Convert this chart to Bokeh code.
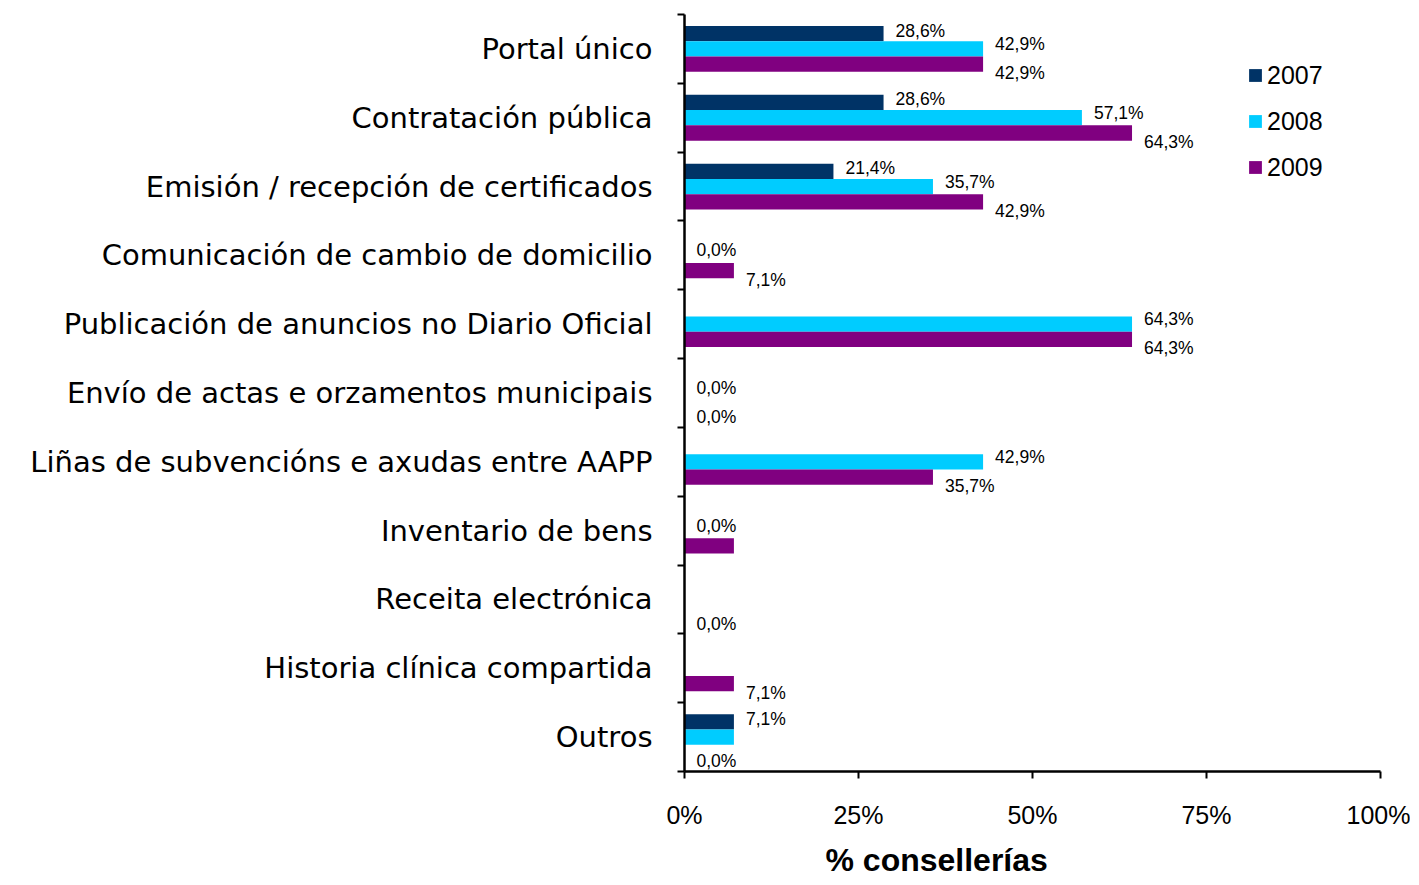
from bokeh.plotting import figure
from bokeh.models import ColumnDataSource, FixedTicker, Legend, LegendItem, Title, Range1d
from bokeh.core.properties import value
from bokeh.embed import file_html
from bokeh.resources import INLINE

categories = [
    "Portal único",
    "Contratación pública",
    "Emisión / recepción de certificados",
    "Comunicación de cambio de domicilio",
    "Publicación de anuncios no Diario Oficial",
    "Envío de actas e orzamentos municipais",
    "Liñas de subvencións e axudas entre AAPP",
    "Inventario de bens",
    "Receita electrónica",
    "Historia clínica compartida",
    "Outros",
]
years = ["2007", "2008", "2009"]
v2007 = [28.6, 28.6, 21.4, 0.0, 0.0, 0.0, 0.0, 0.0, 0.0, 0.0, 7.1]
v2008 = [42.9, 57.1, 35.7, 0.0, 64.3, 0.0, 42.9, 0.0, 0.0, 0.0, 7.1]
v2009 = [42.9, 64.3, 42.9, 7.1, 64.3, 0.0, 35.7, 7.1, 0.0, 7.1, 0.0]
lab2007 = ["28,6%", "28,6%", "21,4%", "", "", "", "", "", "", "", "7,1%"]
lab2008 = ["42,9%", "57,1%", "35,7%", "0,0%", "64,3%", "0,0%", "42,9%", "0,0%", "", "", ""]
lab2009 = ["42,9%", "64,3%", "42,9%", "7,1%", "64,3%", "0,0%", "35,7%", "", "0,0%", "7,1%", "0,0%"]
x_ticks = [0, 25, 50, 75, 100]
x_tick_labels = ["0%", "25%", "50%", "75%", "100%"]
x_title = "% consellerías"

colors = ["#003366", "#00CCFF", "#800080"]
values = [v2007, v2008, v2009]
labels = [lab2007, lab2008, lab2009]

n = len(categories)
centers = [n - i - 0.5 for i in range(n)]
bar_h = 0.222
shifts = [bar_h, 0.0, -bar_h]
label_dy = [-3, -5, 9]

p = figure(width=1410, height=885, output_backend="svg", toolbar_location=None,
           x_range=Range1d(0, 100), y_range=Range1d(0, n),
           min_border_left=684, min_border_right=30, min_border_top=14, min_border_bottom=113)
p.outline_line_color = None
p.background_fill_color = "white"
p.xgrid.visible = False
p.ygrid.visible = False

renderers = []
for k in range(3):
    ys = [c + shifts[k] for c in centers]
    src = ColumnDataSource(dict(y=ys, right=values[k], text=labels[k]))
    r = p.hbar(y="y", left=0, right="right", height=bar_h, source=src,
               fill_color=colors[k], line_color=None)
    renderers.append(r)
    p.text(x="right", y="y", text="text", source=src, x_offset=12, y_offset=label_dy[k],
           text_font=value("Liberation Sans"), text_font_size="17.5px",
           text_color="black", text_baseline="middle", text_align="left")

legend = Legend(items=[LegendItem(label=years[k], renderers=[renderers[k]]) for k in range(3)],
                location=(563, 581), orientation="vertical")
legend.glyph_width = 16
legend.glyph_height = 16
legend.label_height = 46
legend.spacing = 0
legend.padding = 0
legend.margin = 0
legend.label_standoff = 4
legend.border_line_color = None
legend.background_fill_alpha = 0
legend.label_text_font = "Liberation Sans"
legend.label_text_font_size = "25px"
legend.label_text_color = "black"
p.add_layout(legend, "center")

# y axis
yax = p.yaxis[0]
yax.ticker = FixedTicker(ticks=centers, minor_ticks=list(range(n + 1)))
yax.major_label_overrides = {c: categories[i] for i, c in enumerate(centers)}
yax.major_tick_out = 0
yax.major_tick_in = 0
yax.minor_tick_out = 7
yax.minor_tick_in = 0
yax.minor_tick_line_width = 2
yax.minor_tick_line_color = "black"
yax.axis_line_width = 2.5
yax.axis_line_color = "black"
yax.major_label_standoff = 25
yax.major_label_text_font = "DejaVu Sans"
yax.major_label_text_font_size = "29px"
yax.major_label_text_color = "black"

# x axis
xax = p.xaxis[0]
xax.ticker = FixedTicker(ticks=x_ticks, minor_ticks=[])
xax.major_label_overrides = {t: x_tick_labels[i] for i, t in enumerate(x_ticks)}
xax.major_tick_out = 7
xax.major_tick_in = 0
xax.major_tick_line_width = 2
xax.major_tick_line_color = "black"
xax.minor_tick_out = 0
xax.minor_tick_in = 0
xax.axis_line_width = 2.5
xax.axis_line_color = "black"
xax.major_label_standoff = 22
xax.major_label_text_font = "Liberation Sans"
xax.major_label_text_font_size = "25px"
xax.major_label_text_color = "black"

t = Title(text=x_title, align="left", offset=141, standoff=16,
          text_font="Liberation Sans", text_font_size="32px", text_font_style="bold",
          text_color="black")
p.add_layout(t, "below")

open("out.html", "w").write(file_html(p, INLINE))
